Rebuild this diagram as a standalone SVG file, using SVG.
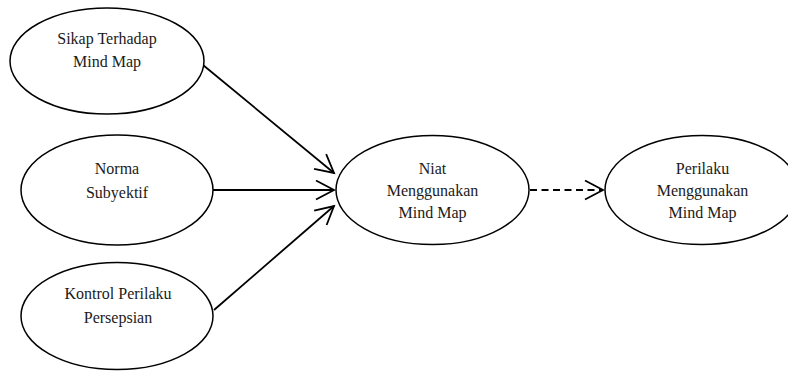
<svg xmlns="http://www.w3.org/2000/svg" width="788" height="371" viewBox="0 0 788 371">
<defs>
<style>
.node ellipse{fill:#fff;stroke:#000;stroke-width:1.5}
.node text{font-family:"Liberation Serif","Times New Roman",serif;font-size:16px;fill:#1a1a1a;text-anchor:middle}
.conn line{stroke:#000;stroke-width:1.8;fill:none}
.dash{stroke-dasharray:7 4.5}
</style>
<marker id="open" markerUnits="userSpaceOnUse" markerWidth="24" markerHeight="24" viewBox="-20 -12 24 24" refX="0" refY="0" orient="auto">
<path d="M-18,-9.5 L0,0 L-18,9.5" fill="none" stroke="#000" stroke-width="1.8"/>
</marker>
</defs>
<rect width="788" height="371" fill="#fff"/>
<g id="connectors" class="conn">
<line x1="203" y1="65" x2="334" y2="173" marker-end="url(#open)"/>
<line x1="213" y1="190" x2="334" y2="190" marker-end="url(#open)"/>
<line x1="214" y1="310" x2="334" y2="206" marker-end="url(#open)"/>
<line class="dash" x1="530" y1="190" x2="603" y2="190" marker-end="url(#open)"/>
</g>
<g id="sikap" class="node">
<ellipse cx="107" cy="61" rx="97" ry="53"/>
<text x="107" y="44">Sikap Terhadap</text>
<text x="107" y="67">Mind Map</text>
</g>
<g id="norma" class="node">
<ellipse cx="117" cy="190" rx="96" ry="55"/>
<text x="117" y="173.5">Norma</text>
<text x="117" y="197.5">Subyektif</text>
</g>
<g id="kontrol" class="node">
<ellipse cx="117" cy="316" rx="96" ry="53.5"/>
<text x="118" y="298.5">Kontrol Perilaku</text>
<text x="118" y="322.5">Persepsian</text>
</g>
<g id="niat" class="node">
<ellipse cx="432.5" cy="190" rx="96.5" ry="54.5"/>
<text x="432.5" y="173.5">Niat</text>
<text x="432.5" y="196">Menggunakan</text>
<text x="432.5" y="217.5">Mind Map</text>
</g>
<g id="perilaku" class="node">
<ellipse cx="702" cy="190" rx="97" ry="54.5"/>
<text x="702.5" y="173.5">Perilaku</text>
<text x="702.5" y="196">Menggunakan</text>
<text x="702.5" y="217.5">Mind Map</text>
</g>
</svg>
